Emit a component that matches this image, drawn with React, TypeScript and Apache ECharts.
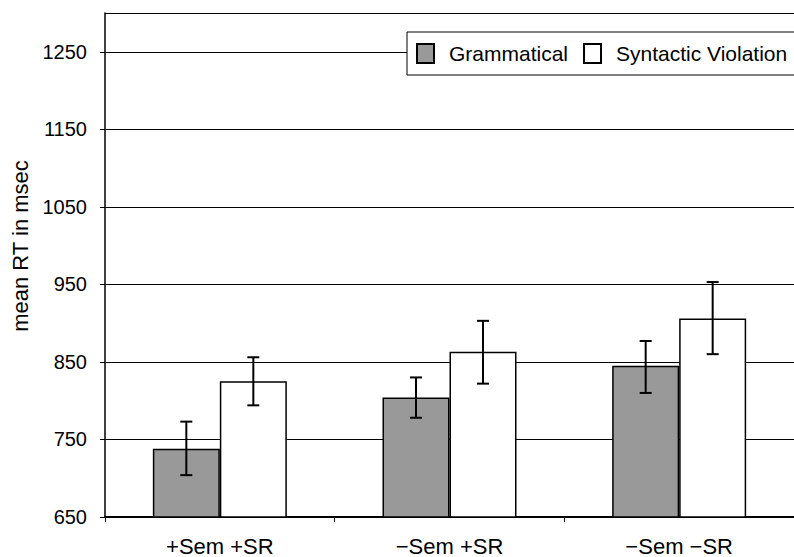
import React, { useEffect, useRef } from "react";
import * as echarts from "echarts";

const categories = ["+Sem +SR", "\u2212Sem +SR", "\u2212Sem \u2212SR"];
const seriesNames = ["Grammatical", "Syntactic Violation"];
const grammatical = [738, 804, 845];
const violation = [825, 863, 906];
const grammaticalErr = [
  [704, 773],
  [778, 830],
  [810, 877],
];
const violationErr = [
  [794, 856],
  [822, 903],
  [860, 953],
];
const yMin = 650;
const yMax = 1300;
const yStep = 100;

const FONT = "'Liberation Sans', Arial, sans-serif";
const BAR_W = 67;

function errorSeries(name: string, errs: number[][], offset: number) {
  return {
    type: "custom",
    name: name + " error",
    z: 5,
    silent: true,
    data: errs.map((e, i) => [i, e[0], e[1]]),
    encode: { x: 0, y: [1, 2] },
    renderItem: (_params: any, api: any) => {
      const i = api.value(0);
      const lo = api.coord([i, api.value(1)]);
      const hi = api.coord([i, api.value(2)]);
      const x = lo[0] + offset;
      const cap = 6;
      const style = { stroke: "#000", lineWidth: 2 };
      return {
        type: "group",
        children: [
          { type: "line", shape: { x1: x, y1: lo[1], x2: x, y2: hi[1] }, style },
          { type: "line", shape: { x1: x - cap, y1: lo[1], x2: x + cap, y2: lo[1] }, style },
          { type: "line", shape: { x1: x - cap, y1: hi[1], x2: x + cap, y2: hi[1] }, style },
        ],
      };
    },
  };
}

export default function App() {
  const ref = useRef<HTMLDivElement>(null);
  useEffect(() => {
    document.body.style.margin = "0";
    if (!ref.current) return;
    const chart = echarts.init(ref.current, undefined, { renderer: "svg" });
    chart.setOption({
      animation: false,
      backgroundColor: "#fff",
      textStyle: { fontFamily: FONT, color: "#000" },
      grid: { left: 105, right: -8, top: 13, bottom: 40, containLabel: false },
      legend: {
        data: seriesNames,
        left: 407,
        top: 32,
        width: 440,
        orient: "horizontal",
        icon: "rect",
        itemWidth: 17,
        itemHeight: 19,
        itemGap: 15,
        padding: [11, 30, 11, 9],
        backgroundColor: "#fff",
        borderColor: "#000",
        borderWidth: 1,
        textStyle: { fontFamily: FONT, fontSize: 21, color: "#000", padding: [0, 0, 0, 10] },
      },
      xAxis: {
        type: "category",
        data: categories,
        axisLine: { lineStyle: { color: "#000", width: 2 } },
        axisTick: { show: true, length: 5, interval: 0, lineStyle: { color: "#000" } },
        axisLabel: { fontFamily: FONT, fontSize: 22, color: "#000", margin: 18 },
      },
      yAxis: {
        type: "value",
        min: yMin,
        max: yMax,
        interval: yStep,
        name: "mean RT in msec",
        nameLocation: "middle",
        nameGap: 74,
        nameRotate: 90,
        nameTextStyle: { fontFamily: FONT, fontSize: 22, color: "#000", padding: [0, 0, 0, 38] },
        axisLine: { show: true, lineStyle: { color: "#000", width: 1.5 } },
        axisTick: { show: true, length: 5, lineStyle: { color: "#000" } },
        axisLabel: {
          fontFamily: FONT,
          fontSize: 20,
          color: "#000",
          margin: 18,
          showMaxLabel: false,
          formatter: (v: number) => String(v),
        },
        splitLine: { show: true, lineStyle: { color: "#000", width: 1 } },
      },
      series: [
        {
          type: "bar",
          name: seriesNames[0],
          data: grammatical,
          barWidth: BAR_W,
          barGap: "0%",
          itemStyle: { color: "#999999", borderColor: "#000", borderWidth: 1.5 },
        },
        {
          type: "bar",
          name: seriesNames[1],
          data: violation,
          barWidth: BAR_W,
          barGap: "0%",
          itemStyle: { color: "#ffffff", borderColor: "#000", borderWidth: 1.5 },
        },
        errorSeries(seriesNames[0], grammaticalErr, -BAR_W / 2),
        errorSeries(seriesNames[1], violationErr, BAR_W / 2),
      ],
    });
    return () => chart.dispose();
  }, []);
  return <div ref={ref} style={{ width: 794, height: 557 }} />;
}
